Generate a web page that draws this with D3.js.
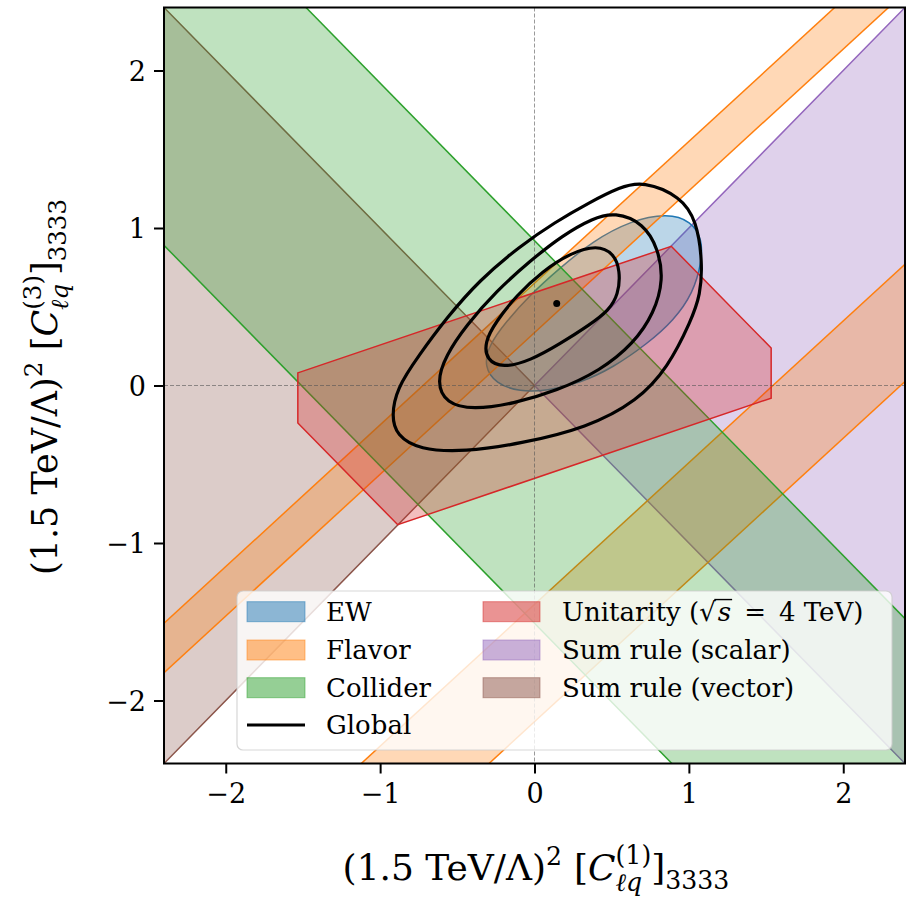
<!DOCTYPE html>
<html><head><meta charset="utf-8">
<script src="https://cdn.jsdelivr.net/npm/d3@7"></script>
<style>body{margin:0;background:#fff;} svg{display:block}</style>
</head><body>
<svg id="c" width="910" height="897"></svg>
<script>
// ---------------- data ----------------
const xDomain = [-2.4, 2.4];
const yDomain = [-2.4, 2.4];
const xTicks = [-2, -1, 0, 1, 2];
const yTicks = [-2, -1, 0, 1, 2];
const legendLeft = ["EW", "Flavor", "Collider", "Global"];
const legendRight = ["Unitarity", "Sum rule (scalar)", "Sum rule (vector)"];

// Collider band: lower/upper bound of C1 + C3
const colliderSumBounds = [-1.51, 0.92];
// Flavor: C3 - 0.9*C1 inside either interval
const flavorSlope = 0.9;
const flavorIntercepts = [[0.336, 0.65], [-2.135, -1.39]];
// Sum-rule wedges: apex + two edge directions
const scalarWedge = [[0, 0], [1, 1], [1, -1]];
const vectorWedge = [[0, 0], [-1, 1], [-1, -1]];
// Unitarity hexagon
const unitarityHex = [[-1.533, 0.08], [0.886, 0.884], [1.533, 0.238], [1.533, -0.08], [-0.886, -0.884], [-1.533, -0.238]];
// EW ellipse outline
const ewCurve = [[0.862, 1.094], [1.015, 1.044], [1.088, 0.925], [1.082, 0.782], [1.028, 0.588], [0.902, 0.413], [0.732, 0.266], [0.508, 0.113], [0.295, 0.016], [0.081, -0.034], [-0.096, -0.04], [-0.252, 0.012], [-0.326, 0.121], [-0.298, 0.252], [-0.184, 0.405], [-0.032, 0.572], [0.163, 0.745], [0.379, 0.918], [0.621, 1.046]];
// Global fit contours
const globalOuter = [[0.703, 1.298], [0.948, 1.2], [1.05, 1.045], [1.088, 0.788], [1.075, 0.575], [1.015, 0.413], [0.864, 0.113], [0.668, -0.097], [0.342, -0.268], [-0.094, -0.37], [-0.45, -0.421], [-0.748, -0.408], [-0.894, -0.316], [-0.926, -0.197], [-0.894, -0.02], [-0.75, 0.19], [-0.573, 0.425], [-0.358, 0.668], [-0.096, 0.884], [0.131, 1.036], [0.358, 1.163], [0.554, 1.26]];
const globalMiddle = [[0.521, 1.101], [0.708, 1.03], [0.801, 0.868], [0.836, 0.673], [0.775, 0.46], [0.643, 0.267], [0.426, 0.094], [0.146, -0.033], [-0.139, -0.116], [-0.398, -0.154], [-0.573, -0.114], [-0.635, 0.019], [-0.575, 0.19], [-0.443, 0.381], [-0.248, 0.598], [-0.031, 0.79], [0.184, 0.955], [0.379, 1.063]];
const globalInner = [[0.405, 0.892], [0.513, 0.84], [0.556, 0.728], [0.543, 0.576], [0.481, 0.477], [0.361, 0.387], [0.166, 0.265], [-0.029, 0.157], [-0.206, 0.112], [-0.31, 0.16], [-0.324, 0.275], [-0.25, 0.405], [-0.117, 0.572], [0.053, 0.726], [0.23, 0.84]];
const bestFit = [0.144, 0.52];

// ---------------- setup ----------------
const FONT = "'DejaVu Serif', serif";
const C = {EW: "#1f77b4", Flavor: "#ff7f0e", Collider: "#2ca02c", Unitarity: "#d62728", Scalar: "#9467bd", Vector: "#8c564b"};
const P = {left: 164, top: 7.5, right: 905, bottom: 763.5};
const svg = d3.select("#c");
const x = d3.scaleLinear().domain(xDomain).range([P.left, P.right]);
const y = d3.scaleLinear().domain(yDomain).range([P.bottom, P.top]);

svg.append("defs").append("clipPath").attr("id", "clip")
  .append("rect").attr("x", P.left).attr("y", P.top).attr("width", P.right - P.left).attr("height", P.bottom - P.top);
const plot = svg.append("g").attr("clip-path", "url(#clip)");

const poly = d3.line().x(d => x(d[0])).y(d => y(d[1]));
const smooth = d3.line().x(d => x(d[0])).y(d => y(d[1])).curve(d3.curveBasisClosed);
const FAR = 50;
const FA = 0.3, LW = 1.5;

function wedge(w, color) {
  const [a, d1, d2] = w;
  const pts = [a, [a[0] + FAR * d1[0], a[1] + FAR * d1[1]], [a[0] + FAR * d2[0], a[1] + FAR * d2[1]]];
  plot.append("path").attr("d", poly(pts) + "Z").attr("fill", color).attr("fill-opacity", FA)
    .attr("stroke", color).attr("stroke-width", LW);
}
function band(m, b1, b2, color) {
  const L = b => [[-FAR, m * -FAR + b], [FAR, m * FAR + b]];
  const pts = [...L(b1), ...L(b2).reverse()];
  plot.append("path").attr("d", poly(pts) + "Z").attr("fill", color).attr("fill-opacity", FA).attr("stroke", "none");
  [b1, b2].forEach(b => plot.append("path").attr("d", poly(L(b))).attr("fill", "none").attr("stroke", color).attr("stroke-width", LW));
}

// Sum rules
wedge(scalarWedge, C.Scalar);
wedge(vectorWedge, C.Vector);
// EW
plot.append("path").attr("d", smooth(ewCurve))
  .attr("fill", C.EW).attr("fill-opacity", FA).attr("stroke", C.EW).attr("stroke-width", LW);
// Flavor
flavorIntercepts.forEach(([b1, b2]) => band(flavorSlope, b1, b2, C.Flavor));
// Collider
band(-1, colliderSumBounds[0], colliderSumBounds[1], C.Collider);
// Unitarity
plot.append("path").attr("d", poly(unitarityHex) + "Z").attr("fill", C.Unitarity).attr("fill-opacity", FA)
  .attr("stroke", C.Unitarity).attr("stroke-width", LW);

// zero lines
plot.append("line").attr("x1", x(0)).attr("x2", x(0)).attr("y1", P.top).attr("y2", P.bottom)
  .attr("stroke", "#555").attr("stroke-width", 0.8).attr("stroke-dasharray", "4,2").attr("opacity", 0.75);
plot.append("line").attr("y1", y(0)).attr("y2", y(0)).attr("x1", P.left).attr("x2", P.right)
  .attr("stroke", "#555").attr("stroke-width", 0.8).attr("stroke-dasharray", "4,2").attr("opacity", 0.75);

// Global contours
[globalOuter, globalMiddle, globalInner].forEach(c => {
  plot.append("path").attr("d", smooth(c)).attr("fill", "none").attr("stroke", "#000").attr("stroke-width", 3.2);
});
plot.append("circle").attr("cx", x(bestFit[0])).attr("cy", y(bestFit[1])).attr("r", 3.5).attr("fill", "#000");

// axes
const fmt = d => d < 0 ? "\u2212" + Math.abs(d) : d;
const xAxis = d3.axisBottom(x).tickValues(xTicks).tickSize(10).tickPadding(7).tickFormat(fmt);
const yAxis = d3.axisLeft(y).tickValues(yTicks).tickSize(10).tickPadding(8).tickFormat(fmt);
const gx = svg.append("g").attr("transform", `translate(0,${P.bottom})`).call(xAxis);
const gy = svg.append("g").attr("transform", `translate(${P.left},0)`).call(yAxis);
[gx, gy].forEach(g => {
  g.select(".domain").remove();
  g.selectAll(".tick line").attr("stroke", "#000").attr("stroke-width", 2);
  g.selectAll(".tick text").attr("font-family", FONT).attr("font-size", 27).attr("fill", "#000");
});
gx.selectAll(".tick text").attr("dy", "0.85em");
gy.selectAll(".tick text").attr("dy", "0.36em");
svg.append("rect").attr("x", P.left).attr("y", P.top).attr("width", P.right - P.left).attr("height", P.bottom - P.top)
  .attr("fill", "none").attr("stroke", "#000").attr("stroke-width", 2);

// legend
const lg = svg.append("g");
lg.append("rect").attr("x", 237).attr("y", 591).attr("width", 655).attr("height", 159).attr("rx", 6)
  .attr("fill", "#fff").attr("fill-opacity", 0.8).attr("stroke", "#ccc").attr("stroke-opacity", 0.8).attr("stroke-width", 1.2);
const rowY = [611.7, 650, 687.7, 725];
const LFS = 26;
const leftColors = [C.EW, C.Flavor, C.Collider, null];
legendLeft.forEach((name, i) => {
  if (leftColors[i]) {
    lg.append("rect").attr("x", 247).attr("y", rowY[i] - 10).attr("width", 58).attr("height", 20)
      .attr("fill", leftColors[i]).attr("fill-opacity", 0.5).attr("stroke", leftColors[i]).attr("stroke-opacity", 0.5);
  } else {
    lg.append("line").attr("x1", 247).attr("x2", 305).attr("y1", rowY[i]).attr("y2", rowY[i]).attr("stroke", "#000").attr("stroke-width", 3.2);
  }
  lg.append("text").attr("x", 326).attr("y", rowY[i]).attr("dy", "0.36em").attr("font-family", FONT).attr("font-size", LFS).text(name);
});
const rightColors = [C.Unitarity, C.Scalar, C.Vector];
legendRight.forEach((name, i) => {
  lg.append("rect").attr("x", 483).attr("y", rowY[i] - 10).attr("width", 57).attr("height", 20)
    .attr("fill", rightColors[i]).attr("fill-opacity", 0.5).attr("stroke", rightColors[i]).attr("stroke-opacity", 0.5);
  const t = lg.append("text").attr("x", 562).attr("y", rowY[i]).attr("dy", "0.36em").attr("font-family", FONT).attr("font-size", LFS);
  if (i === 0) {
    const pre = name + " (\u221A";
    t.append("tspan").text(pre);
    t.append("tspan").attr("font-style", "italic").attr("dx", 2).text("s");
    t.append("tspan").text("\u2002=\u2002" + "4 TeV)");
    const n = t.node();
    const r1 = n.getExtentOfChar(pre.length - 1), r2 = n.getExtentOfChar(pre.length);
    lg.append("line").attr("x1", r1.x + r1.width - 1.5).attr("x2", r2.x + r2.width + 1)
      .attr("y1", r1.y + 2.5).attr("y2", r1.y + 2.5).attr("stroke", "#000").attr("stroke-width", 1.4);
  } else t.text(name);
});

// axis labels with math layout
function mathLabel(parts, base) {
  const g = svg.append("g");
  let xpos = 0, lastStart = 0;
  parts.forEach(p => {
    const size = base * (p.scale || 1);
    const start = p.stack ? lastStart : xpos;
    const t = g.append("text").attr("x", start).attr("y", (p.dy || 0) * base)
      .attr("font-family", FONT).attr("font-size", size).attr("font-style", p.italic ? "italic" : "normal").text(p.t);
    const w = t.node().getComputedTextLength();
    if (p.stack) xpos = Math.max(xpos, start + w);
    else { lastStart = start; xpos = start + w; }
  });
  return {g, width: xpos};
}
function labelParts(k) {
  return [
    {t: "(1.5 TeV/\u039B)"}, {t: "2", scale: 0.7, dy: -0.42}, {t: "\u2004["}, {t: "C", italic: true},
    {t: "\u2113q", italic: true, scale: 0.7, dy: 0.3}, {t: "(" + k + ")", scale: 0.7, dy: -0.45, stack: true},
    {t: "]"}, {t: "3333", scale: 0.7, dy: 0.25}
  ];
}
const xl = mathLabel(labelParts(1), 36);
xl.g.attr("transform", `translate(${536 - xl.width / 2},880)`);
const yl = mathLabel(labelParts(3), 35);
yl.g.attr("transform", `translate(57,${387 + yl.width / 2}) rotate(-90)`);
</script>
</body></html>
